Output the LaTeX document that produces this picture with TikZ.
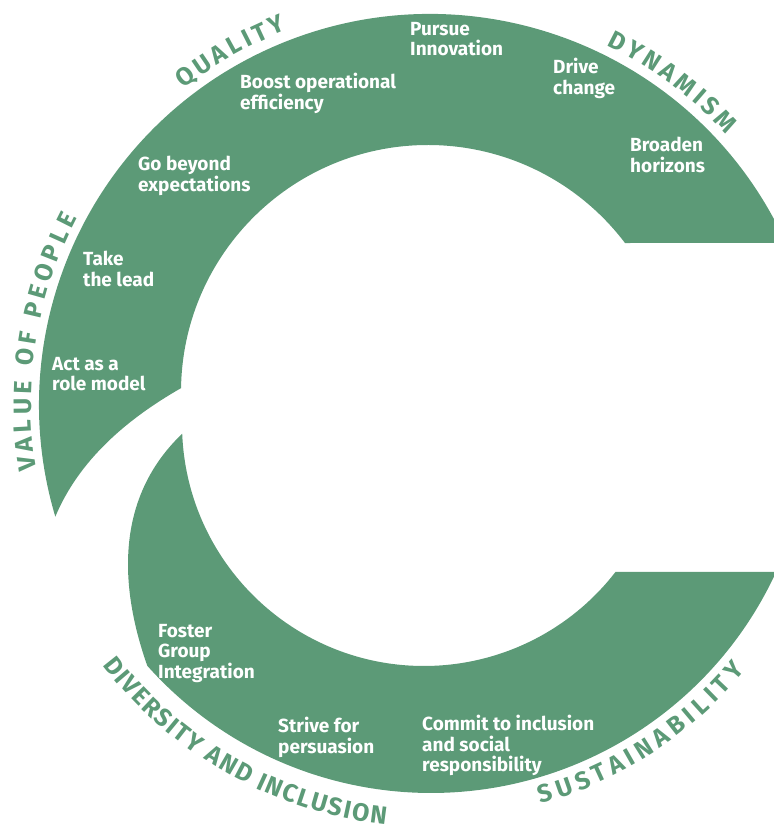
\documentclass[tikz,border=0pt]{standalone}
\usepackage{fontspec}
\setmainfont{Fira Sans}
\usetikzlibrary{decorations.text}
\definecolor{valgreen}{HTML}{5C9A77}

\begin{document}
\begin{tikzpicture}[
    % One unit is one pixel of the original chart
    x=1pt, y=1pt,
    % Styles for the bands, the value texts and the curved titles
    band_style/.style={fill=valgreen},
    item_style/.style={text=white, font=\bfseries\fontsize{19}{20.5}\selectfont,
      align=left, anchor=north west, inner sep=0pt},
    % #1 = title, #2 = extra space before each letter
    title_style/.style 2 args={decorate, decoration={text along path, text align=center,
      text color=valgreen, text={|\bfseries\fontsize{25}{25}\selectfont\kern#2pt|#1}}}
  ]

  \useasboundingbox (0,0) rectangle (774,825);
  \clip (0,0) rectangle (774,825);

  % --- Step 1: centres of the circles that bound the two bands ---
  \coordinate (up_out) at (430,420);
  \coordinate (up_in) at (428,433);
  \coordinate (low_out) at (431,412);
  \coordinate (low_in) at (424,401);
  \coordinate (low_tip) at ([shift={(182.3:242)}]low_in);

  % --- Step 2: the upper band, cut flat on the right ---
  \fill[band_style] ([shift={(37.1:247)}]up_in) -- ([shift={(24.5:391)}]up_out)
    arc[start angle=24.5, end angle=196.6, radius=391]
    .. controls (79,365) and (127,406) .. ([shift={(179.1:247)}]up_in)
    arc[start angle=179.1, end angle=37.1, radius=247] -- cycle;

  % --- Step 3: the lower band ---
  \fill[band_style] (low_tip)
    arc[start angle=182.3, end angle=322.3, radius=242]
    -- ([shift={(-24.7:380)}]low_out)
    arc[start angle=-24.7, end angle=-138.3, radius=380]
    .. controls (117,245) and (118,330) .. (low_tip) -- cycle;

  % --- Step 4: the values written in the bands ---
  \node[item_style] (pursue) at (410,803) {Pursue\\Innovation};
  \node[item_style] (drive) at (553,767) {Drive\\change};
  \node[item_style] (broaden) at (630,688) {Broaden\\horizons};
  \node[item_style] (boost) at (240,752) {Boost operational\\efficiency};
  \node[item_style] (beyond) at (138,669) {Go beyond\\expectations};
  \node[item_style] (lead) at (83,574) {Take\\the lead};
  \node[item_style] (role) at (52,468) {Act as a\\role model};
  \node[item_style] (foster) at (158,201) {Foster\\Group\\Integration};
  \node[item_style] (strive) at (278,108) {Strive for\\persuasion};
  \node[item_style] (commit) at (422,110) {Commit to inclusion\\and social\\responsibility};

  % --- Step 5: the titles that follow the outer edges ---
  \path[title_style={QUALITY}{3.7}] ([shift={(149.7:401)}]up_out)
    arc[start angle=149.7, end angle=89.7, radius=401];
  \path[title_style={DYNAMISM}{3.8}] ([shift={(83.4:401)}]up_out)
    arc[start angle=83.4, end angle=23.4, radius=401];
  \path[title_style={VALUE OF PEOPLE}{4.3}] ([shift={(211:399)}]up_out)
    arc[start angle=211, end angle=131, radius=399];
  \path[title_style={DIVERSITY AND INCLUSION}{1.6}] ([shift={(195.5:414)}]low_out)
    arc[start angle=195.5, end angle=285.5, radius=414];
  \path[title_style={SUSTAINABILITY}{5}] ([shift={(262.8:406)}]low_out)
    arc[start angle=262.8, end angle=342.8, radius=406];

\end{tikzpicture}
\end{document}
